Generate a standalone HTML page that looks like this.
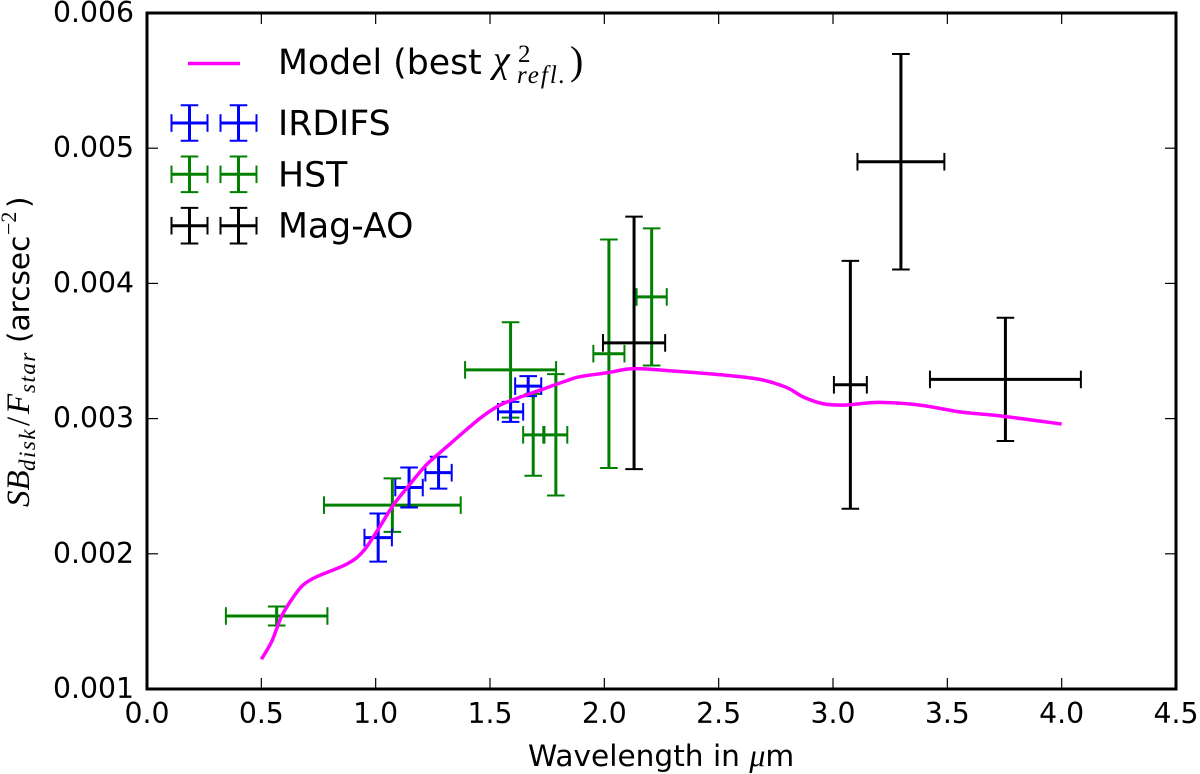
<!DOCTYPE html>
<html>
<head>
<meta charset="utf-8">
<style>
html,body{margin:0;padding:0;background:#fff}
svg{display:block}
text{font-family:"DejaVu Sans","Liberation Sans",sans-serif;fill:#000}
.m{font-family:"Liberation Serif",serif;font-style:italic}
.r{font-family:"Liberation Serif",serif;font-style:normal}
</style>
</head>
<body>
<svg id="chart" width="1200" height="774" viewBox="0 0 1200 774" xmlns="http://www.w3.org/2000/svg">
  <rect x="0" y="0" width="1200" height="774" fill="#fff"/>
  <g id="marks"></g>
  <g id="ticks"></g>
  <rect x="147" y="13" width="1029" height="676" fill="none" stroke="#000" stroke-width="3"/>
  <text x="528" y="766" font-size="29.6">Wavelength in <tspan class="m" font-size="32">μ</tspan>m</text>
  <g transform="translate(29,507) rotate(-90)">
    <text font-size="33"><tspan class="m" x="0" y="0">SB</tspan><tspan class="m" font-size="23" letter-spacing="1.5" x="36" y="6">disk</tspan><tspan class="r" x="81" y="0">/</tspan><tspan class="m" x="93" y="0">F</tspan><tspan class="m" font-size="23" letter-spacing="1.5" x="114" y="6">star</tspan></text>
    <text font-size="29.6"><tspan x="164" y="0">(arcsec</tspan><tspan class="r" font-size="22" x="272" y="-13">−2</tspan><tspan x="299" y="0">)</tspan></text>
  </g>
  <g id="legend">
    <line x1="188" y1="63.5" x2="240" y2="63.5" stroke="#ff00ff" stroke-width="3.5"/>
    <text x="278" y="74" font-size="34.7">Model (best <tspan class="m" font-size="38" x="493" y="72">χ</tspan><tspan class="r" font-size="25" x="518" y="62">2</tspan><tspan class="m" font-size="25" letter-spacing="2" x="517" y="83">refl.</tspan><tspan class="r" font-size="40" x="570" y="74">)</tspan></text>
    <text x="278" y="135" font-size="34.7">IRDIFS</text>
    <text x="278" y="186.5" font-size="34.7">HST</text>
    <text x="278" y="237.5" font-size="34.7">Mag-AO</text>
  </g>
</svg>
<script>
// Chart data (x in microns, y in contrast per square arcsec)
const xTickValues = [0, 0.5, 1, 1.5, 2, 2.5, 3, 3.5, 4, 4.5];
const xTickLabels = ["0.0","0.5","1.0","1.5","2.0","2.5","3.0","3.5","4.0","4.5"];
const yTickValues = [0.001, 0.002, 0.003, 0.004, 0.005, 0.006];
const yTickLabels = ["0.001","0.002","0.003","0.004","0.005","0.006"];

const modelX = [0.50,0.545,0.589,0.640,0.683,0.741,0.857,0.916,0.960,1.018,1.077,1.143,1.223,1.310,1.398,1.470,1.544,1.602,1.718,1.835,1.893,2.017,2.129,2.316,2.535,2.680,2.797,2.870,2.957,3.045,3.118,3.205,3.380,3.555,3.730,4.000];
const modelY = [0.00122,0.00135,0.00154,0.00168,0.00177,0.00183,0.00191,0.00197,0.00205,0.00220,0.00236,0.00250,0.00266,0.00279,0.00292,0.00302,0.00310,0.00314,0.00321,0.00328,0.00331,0.00334,0.00337,0.00335,0.00332,0.00329,0.00323,0.00316,0.00311,0.00310,0.00311,0.00312,0.00310,0.00305,0.00302,0.00296];

const hstX = [0.567,1.073,1.590,1.689,1.788,2.020,2.207];
const hstXErr = [0.222,0.299,0.199,0.044,0.050,0.068,0.066];
const hstY = [0.00154,0.00236,0.00336,0.00288,0.00288,0.00348,0.00390];
const hstYErr = [0.000070,0.000198,0.000353,0.000303,0.000449,0.000845,0.000507];

const irdifsX = [1.011,1.146,1.275,1.590,1.667];
const irdifsXErr = [0.060,0.060,0.0575,0.055,0.057];
const irdifsY = [0.00212,0.00249,0.00260,0.00305,0.00324];
const irdifsYErr = [0.000178,0.000148,0.000118,0.000074,0.000074];

const magaoX = [2.130,3.076,3.297,3.754];
const magaoXErr = [0.136,0.072,0.190,0.330];
const magaoY = [0.00356,0.00325,0.00490,0.00329];
const magaoYErr = [0.000934,0.000917,0.000797,0.000456];

const NS = 'http://www.w3.org/2000/svg';
const xMin = 0, xMax = 4.5, yMin = 0.001, yMax = 0.006;
const plotLeft = 147, plotRight = 1176, plotTop = 13, plotBottom = 689;
const capHalf = 8.8;
const barWidth = 3, capWidth = 2;
function sx(v){ return plotLeft + (v - xMin) / (xMax - xMin) * (plotRight - plotLeft); }
function sy(v){ return plotBottom - (v - yMin) / (yMax - yMin) * (plotBottom - plotTop); }

function seg(parent, x1, y1, x2, y2, color, w){
  const l = document.createElementNS(NS, 'line');
  l.setAttribute('x1', x1);
  l.setAttribute('y1', y1);
  l.setAttribute('x2', x2);
  l.setAttribute('y2', y2);
  l.setAttribute('stroke', color);
  l.setAttribute('stroke-width', w);
  parent.appendChild(l);
  return l;
}

function drawSeries(name, color, xs, xe, ys, ye){
  const parent = document.getElementById('marks');
  const series = document.createElementNS(NS, 'g');
  
  
  parent.appendChild(series);
  xs.forEach(function(xv, i){
    const g = document.createElementNS(NS, 'g');
    
    
    series.appendChild(g);
    const cx = sx(xv), cy = sy(ys[i]);
    const xl = sx(xv - xe[i]), xr = sx(xv + xe[i]);
    const yt = sy(ys[i] + ye[i]), yb = sy(ys[i] - ye[i]);
    seg(g, xl, cy, xr, cy, color, barWidth);
    seg(g, cx, yt, cx, yb, color, barWidth);
    seg(g, xl, cy - capHalf, xl, cy + capHalf, color, capWidth);
    seg(g, xr, cy - capHalf, xr, cy + capHalf, color, capWidth);
    seg(g, cx - capHalf, yt, cx + capHalf, yt, color, capWidth);
    seg(g, cx - capHalf, yb, cx + capHalf, yb, color, capWidth);
  });
}

function drawModel(){
  const pts = modelX.map(function(xv, i){ return [sx(xv), sy(modelY[i])]; });
  let d = 'M' + pts[0][0].toFixed(2) + ' ' + pts[0][1].toFixed(2);
  for (let i = 0; i < pts.length - 1; i++){
    const p0 = pts[Math.max(i - 1, 0)], p1 = pts[i], p2 = pts[i + 1], p3 = pts[Math.min(i + 2, pts.length - 1)];
    const c1x = p1[0] + (p2[0] - p0[0]) / 6, c1y = p1[1] + (p2[1] - p0[1]) / 6;
    const c2x = p2[0] - (p3[0] - p1[0]) / 6, c2y = p2[1] - (p3[1] - p1[1]) / 6;
    d += 'C' + c1x.toFixed(2) + ' ' + c1y.toFixed(2) + ' ' + c2x.toFixed(2) + ' ' + c2y.toFixed(2) + ' ' + p2[0].toFixed(2) + ' ' + p2[1].toFixed(2);
  }
  const path = document.createElementNS(NS, 'path');
  
  
  path.setAttribute('d', d);
  path.setAttribute('fill', 'none');
  path.setAttribute('stroke', '#ff00ff');
  path.setAttribute('stroke-width', '3.5');
  path.setAttribute('stroke-linejoin', 'round');
  document.getElementById('marks').appendChild(path);
}

function drawAxes(){
  const t = document.getElementById('ticks');
  const svg = document.getElementById('chart');
  xTickValues.forEach(function(v, i){
    const x = sx(v);
    seg(t, x, plotBottom, x, plotBottom - 11, '#000', 1.2);
    seg(t, x, plotTop, x, plotTop + 11, '#000', 1.2);
    const label = document.createElementNS(NS, 'text');
    
    
    label.setAttribute('x', x);
    label.setAttribute('y', 723);
    label.setAttribute('font-size', '28.3');
    label.setAttribute('text-anchor', 'middle');
    label.textContent = xTickLabels[i];
    svg.appendChild(label);
  });
  yTickValues.forEach(function(v, i){
    const y = sy(v);
    seg(t, plotLeft, y, plotLeft + 11, y, '#000', 1.2);
    seg(t, plotRight, y, plotRight - 11, y, '#000', 1.2);
    const label = document.createElementNS(NS, 'text');
    
    
    label.setAttribute('x', 134);
    label.setAttribute('y', y + 9);
    label.setAttribute('font-size', '28.3');
    label.setAttribute('text-anchor', 'end');
    label.textContent = yTickLabels[i];
    svg.appendChild(label);
  });
}

function drawLegendKey(name, color, cy){
  const legend = document.getElementById('legend');
  [189.5, 238.5].forEach(function(cx){
    const g = document.createElementNS(NS, 'g');
    
    
    legend.appendChild(g);
    seg(g, cx - 18, cy, cx + 18, cy, color, barWidth);
    seg(g, cx, cy - 17.8, cx, cy + 17.8, color, barWidth);
    seg(g, cx - 18, cy - capHalf, cx - 18, cy + capHalf, color, capWidth);
    seg(g, cx + 18, cy - capHalf, cx + 18, cy + capHalf, color, capWidth);
    seg(g, cx - capHalf, cy - 17.8, cx + capHalf, cy - 17.8, color, capWidth);
    seg(g, cx - capHalf, cy + 17.8, cx + capHalf, cy + 17.8, color, capWidth);
  });
}

drawSeries('hst', '#008000', hstX, hstXErr, hstY, hstYErr);
drawSeries('irdifs', '#0000ff', irdifsX, irdifsXErr, irdifsY, irdifsYErr);
drawSeries('mag-ao', '#000000', magaoX, magaoXErr, magaoY, magaoYErr);
drawModel();
drawAxes();
drawLegendKey('irdifs', '#0000ff', 123);
drawLegendKey('hst', '#008000', 174.3);
drawLegendKey('mag-ao', '#000000', 225.7);
</script>
</body>
</html>
